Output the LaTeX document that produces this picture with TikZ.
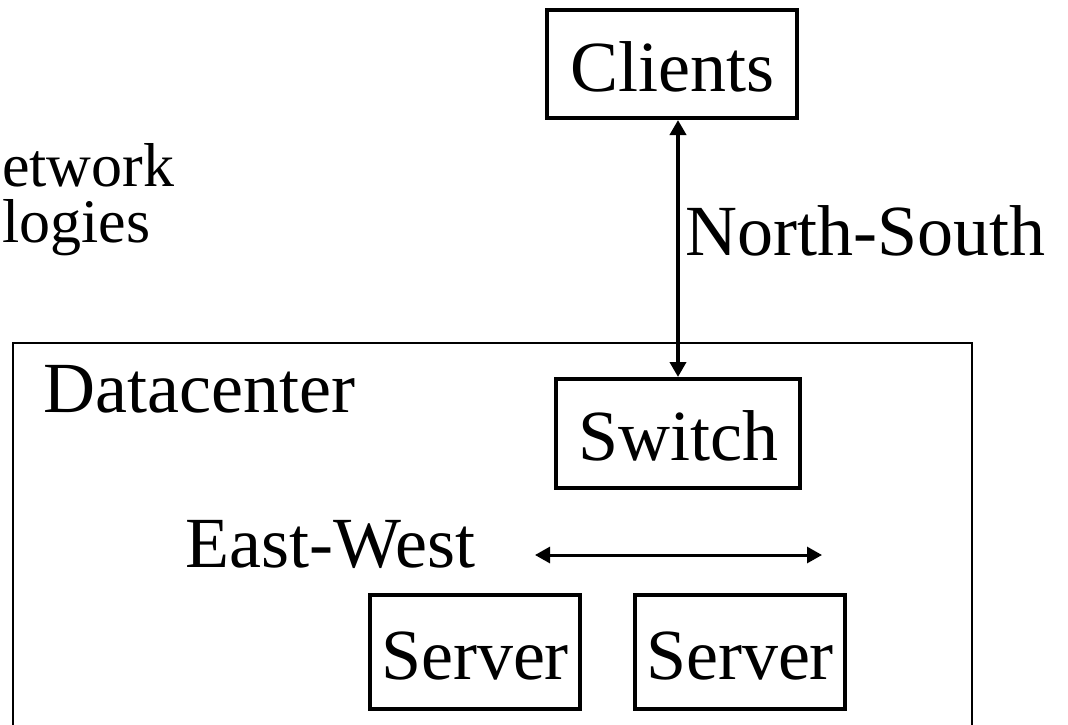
\documentclass[tikz,border=0pt]{standalone}
\usepackage{fontspec}
\setmainfont{Liberation Serif}
\usetikzlibrary{arrows.meta}
\begin{document}
\begin{tikzpicture}[x=1pt,y=-1pt,
  boxnode/.style={draw,line width=4pt,inner sep=0pt,text height=54pt,text depth=0pt,
    font=\fontsize{72}{80}\selectfont},
  lbl/.style={anchor=base west,inner sep=0pt,font=\fontsize{72}{80}\selectfont},
  smalllbl/.style={anchor=base west,inner sep=0pt,text height=43pt,text depth=0pt,
    font=\fontsize{62}{68}\selectfont},
  twoway/.style={line width=#1,{Triangle[length=15pt,width=16pt]}-{Triangle[length=15pt,width=16pt]}}]
\useasboundingbox (0,0) rectangle (1068,724);
% datacenter frame
\draw[line width=1.8pt] (13,760) -- (13,343) -- (972,343) -- (972,760);
% nodes
\node[boxnode,minimum width=250pt,minimum height=108pt] (clients) at (672,64) {Clients};
\node[boxnode,minimum width=244pt,minimum height=109pt] (switch) at (678,433.5) {Switch};
\node[boxnode,minimum width=210pt,minimum height=114pt] (server1) at (475,652) {Server};
\node[boxnode,minimum width=210pt,minimum height=114pt] (server2) at (740,652) {Server};
% labels
\node[smalllbl] (net) at (2,186) {etwork};
\node[smalllbl] (topo) at (2,242) {logies};
\node[lbl] (dc) at (43,412) {Datacenter};
\node[lbl] (ns) at (685,255) {North-South};
\node[lbl] (ew) at (185,567) {East-West};
% connectors
\draw[twoway=4pt] (switch.north) -- (switch.north |- clients.south);
\coordinate (ewl) at (535,555);
\coordinate (ewr) at (822,555);
\draw[twoway=3pt] (ewl) -- (ewr);
\end{tikzpicture}
\end{document}
